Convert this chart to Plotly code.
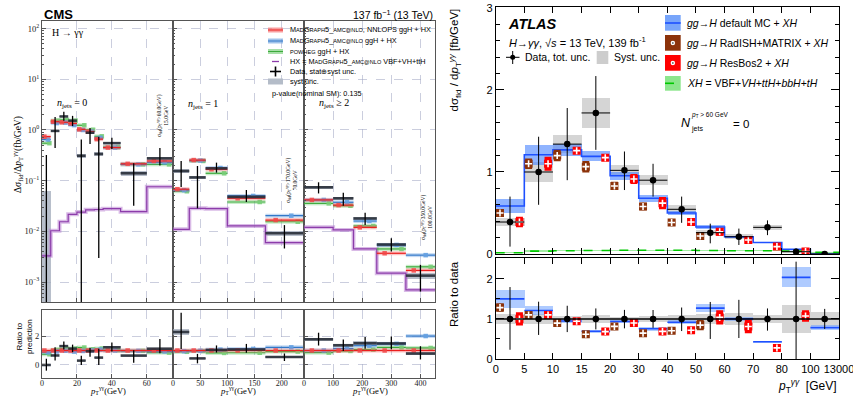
import plotly.graph_objects as go

W, H = 853, 398
def X(p): return p / W
def Y(p): return 1 - p / H

# ======================= CMS (left) data =======================
cms_edges = [
    [0, 5, 10, 15, 20, 25, 30, 35, 45, 60, 75],
    [0, 30, 60, 100, 170, 240],
    [0, 100, 170, 250, 350, 450],
]
cms_xrange = [[0, 75], [0, 241], [0, 450]]
cms_xticks = [[0, 20, 40, 60], [0, 50, 100, 150, 200], [0, 100, 200, 300, 400]]

cms_data = [
    [0.0, 0.96, 1.85, 1.53, 0.31, 0.885, 0.336, 0.55, 0.14, 0.276],
    [0.155, 0.116, 0.175, 0.048, 0.0092],
    [0.074, 0.045, 0.018, 0.0055, 0.00134],
]
cms_err_up = [
    [0.32, 0.84, 0.45, 0.37, 0.34, 0.215, 0.40, 0.15, 0.08, 0.164],
    [0.09, 0.079, 0.052, 0.0175, 0.0041],
    [0.019, 0.013, 0.0053, 0.0018, 0.00086],
]
cms_err_dn = [
    [0.29, 0.52, 0.33, 0.33, 0.31, 0.355, 0.333, 0.13, 0.108, 0.076],
    [0.08, 0.0875, 0.031, 0.010, 0.0046],
    [0.018, 0.013, 0.0046, 0.0015, 0.00069],
]
cms_syst = [
    [0.063, 0.06, 0.08, 0.07, 0.03, 0.05, 0.03, 0.03, 0.015, 0.02],
    [0.012, 0.01, 0.01, 0.004, 0.0012],
    [0.005, 0.003, 0.0015, 0.0005, 0.0002],
]
cms_nnlops = [
    [0.74, 1.46, 1.42, 1.35, 1.03, 0.93, 0.66, 0.45, 0.215, 0.245],
    [0.068, 0.255, 0.168, 0.045, 0.0167],
    [0.0417, 0.033, 0.012, 0.0037, 0.0017],
]
cms_mg5 = [
    [0.65, 1.37, 1.40, 1.25, 1.00, 0.93, 0.70, 0.45, 0.21, 0.23],
    [0.065, 0.25, 0.178, 0.050, 0.0204],
    [0.0417, 0.0375, 0.016, 0.0054, 0.0034],
]
cms_powheg = [
    [0.55, 1.53, 1.58, 1.53, 1.24, 1.01, 0.75, 0.46, 0.21, 0.21],
    [0.062, 0.245, 0.14, 0.038, 0.0155],
    [0.0357, 0.032, 0.0128, 0.0045, 0.0020],
]
cms_hx = [
    [0.0033, 0.0103, 0.0155, 0.0217, 0.024, 0.0266, 0.027, 0.028, 0.0245, 0.076],
    [0.011, 0.0285, 0.028, 0.0128, 0.006],
    [0.012, 0.0107, 0.0045, 0.0015, 0.0007],
]
cms_overflow_text = [
    "σ<sub>fid</sub>(p<sub>T</sub><sup>γγ</sup>>60.0GeV)<br>15.0GeV",
    "σ<sub>fid</sub>(p<sub>T</sub><sup>γγ</sup>>170.0GeV)<br>70.0GeV",
    "σ<sub>fid</sub>(p<sub>T</sub><sup>γγ</sup>>350.0GeV)<br>100.0GeV",
]
cms_njets_text = ["<i>n</i><sub>jets</sub> = 0", "<i>n</i><sub>jets</sub> = 1", "<i>n</i><sub>jets</sub> ≥ 2"]

# ======================= ATLAS (right) data =======================
atlas_labels = ["0", "5", "10", "15", "20", "30", "40", "50", "60", "70", "80", "100", "13000"]
atlas_data = [0.39, 1.00, 1.34, 1.72, 1.02, 0.90, 0.545, 0.26, 0.21, 0.325, 0.028, 0.0006]
atlas_err_up = [0.31, 0.43, 0.44, 0.45, 0.23, 0.20, 0.155, 0.11, 0.10, 0.085, 0.040, 0.00015]
atlas_err_dn = [0.30, 0.40, 0.44, 0.45, 0.24, 0.20, 0.165, 0.13, 0.10, 0.095, 0.040, 0.00015]
atlas_syst = [0.05, 0.12, 0.11, 0.18, 0.06, 0.06, 0.05, 0.03, 0.03, 0.03, 0.010, 0.0001]
atlas_default = [0.585, 1.21, 1.27, 1.19, 0.955, 0.68, 0.50, 0.33, 0.21, 0.14, 0.057, 0.00047]
atlas_default_unc = [0.09, 0.12, 0.07, 0.06, 0.05, 0.04, 0.03, 0.025, 0.012, 0.008, 0.007, 0.00004]
atlas_radish = [0.50, 1.10, 1.20, 1.065, 0.83, 0.58, 0.385, 0.22, None, None, None, None]
atlas_radish_unc = [0.04, 0.065, 0.07, 0.07, 0.05, 0.045, 0.035, 0.033, None, None, None, None]
atlas_resbos = [0.39, 1.10, 1.26, 1.175, 0.915, 0.62, 0.39, 0.27, 0.17, 0.09, 0.030, None]
atlas_resbos_unc = [0.065, 0.085, 0.02, 0.015, 0.06, 0.075, 0.045, 0.047, 0.035, 0.005, 0.004, None]
atlas_xh = [0.016, 0.035, 0.040, 0.042, 0.045, 0.045, 0.045, 0.042, 0.040, 0.040, 0.035, 0.020]
atlas_xh_unc = [0.005, 0.008, 0.008, 0.008, 0.008, 0.008, 0.008, 0.008, 0.008, 0.008, 0.007, 0.005]

# ======================= styles =======================
RED, RED_B, RED_M = "rgb(235,30,30)", "rgba(245,90,90,0.35)", "rgba(240,70,70,0.85)"
BLUE, BLUE_B, BLUE_M = "rgb(50,120,200)", "rgba(90,150,220,0.35)", "rgba(100,160,225,0.9)"
GREEN, GREEN_B, GREEN_M = "rgb(60,170,60)", "rgba(100,200,100,0.35)", "rgba(120,205,120,0.9)"
PURPLE, PURPLE_B = "rgb(140,60,170)", "rgba(185,130,210,0.55)"
GRID = "rgba(160,165,195,0.55)"
FRAME = "#555555"
SERIF = "Liberation Serif"
SANS = "Liberation Sans"
FLOOR = 1e-7

A_BLUE, A_BLUE_B, A_BLUE_RB = "rgb(30,80,255)", "rgba(70,130,255,0.6)", "rgba(110,160,255,0.55)"
A_BROWN, A_RED = "rgb(140,50,10)", "rgb(255,0,0)"
A_GREEN, A_GREEN_B = "rgb(0,200,0)", "rgba(90,220,90,0.55)"
A_GRAY = "rgba(185,185,185,0.6)"

fig = go.Figure()


def hsegs(edges, vals):
    xs, ys = [], []
    for i, v in enumerate(vals):
        if v is None:
            continue
        xs += [edges[i], edges[i + 1], None]
        ys += [v, v, None]
    return xs, ys


def seg_trace(xs, ys, color, width, xa, ya, dash=None):
    return go.Scatter(x=xs, y=ys, mode="lines", line=dict(color=color, width=width, dash=dash),
                      xaxis=xa, yaxis=ya, hoverinfo="skip", connectgaps=False)


# ======================= CMS traces =======================
for k in range(3):
    sfx = "" if k == 0 else str(k + 1)
    xa, ya = "x" + sfx, "y" + sfx
    xr, yr = "x%d" % (k + 4), "y%d" % (k + 4)
    e = cms_edges[k]
    n = len(e) - 1
    cen = [(e[i] + e[i + 1]) / 2 for i in range(n)]
    wid = [e[i + 1] - e[i] for i in range(n)]
    red = cms_nnlops[k]

    hx = cms_hx[k]
    fig.add_trace(go.Scatter(x=e, y=hx + [hx[-1]], mode="lines",
                             line=dict(shape="hv", color=PURPLE_B, width=4),
                             xaxis=xa, yaxis=ya, hoverinfo="skip"))
    fig.add_trace(go.Scatter(x=e, y=hx + [hx[-1]], mode="lines",
                             line=dict(shape="hv", color=PURPLE, width=1.2),
                             xaxis=xa, yaxis=ya, hoverinfo="skip"))

    preds = [(cms_powheg[k], GREEN, GREEN_B, GREEN_M, 0.85),
             (cms_mg5[k], BLUE, BLUE_B, BLUE_M, 0.68),
             (cms_nnlops[k], RED, RED_B, RED_M, 0.27)]
    for vals, c, cb, cm, f in preds:
        rat = [a / b for a, b in zip(vals, red)]
        for (ax_x, ax_y, v) in [(xa, ya, vals), (xr, yr, rat)]:
            sx_, sy_ = hsegs(e, v)
            fig.add_trace(seg_trace(sx_, sy_, cb, 4, ax_x, ax_y))
            fig.add_trace(seg_trace(sx_, sy_, c, 1.2, ax_x, ax_y))
            fig.add_trace(go.Scatter(x=[e[i] + f * wid[i] for i in range(n)], y=v, mode="markers",
                                     marker=dict(symbol="square", size=4.5, color=cm),
                                     xaxis=ax_x, yaxis=ax_y, hoverinfo="skip"))

    d, s, up, dn = cms_data[k], cms_syst[k], cms_err_up[k], cms_err_dn[k]
    base = [max(v - ss, FLOOR) for v, ss in zip(d, s)]
    hgt = [v + ss - b for v, ss, b in zip(d, s, base)]
    fig.add_trace(go.Bar(x=cen, y=hgt, base=base, width=wid, marker=dict(color="rgba(160,170,185,0.75)", line=dict(width=0)),
                         xaxis=xa, yaxis=ya, hoverinfo="skip"))
    rbase = [(v - ss) / r for v, ss, r in zip(d, s, red)]
    rh = [2 * ss / r for ss, r in zip(s, red)]
    fig.add_trace(go.Bar(x=cen, y=rh, base=rbase, width=wid, marker=dict(color="rgba(160,170,185,0.75)", line=dict(width=0)),
                         xaxis=xr, yaxis=yr, hoverinfo="skip"))

    vx, vy = [], []
    for i in range(n):
        vx += [cen[i], cen[i], None]
        vy += [max(d[i] - dn[i], FLOOR), d[i] + up[i], None]
    hxs, hys = hsegs(e, [v if v > 0 else None for v in d])
    fig.add_trace(seg_trace(hxs, hys, "rgba(40,46,55,0.9)", 2.6, xa, ya))
    fig.add_trace(seg_trace(vx, vy, "black", 1.3, xa, ya))
    rvx, rvy = [], []
    for i in range(n):
        rvx += [cen[i], cen[i], None]
        rvy += [(d[i] - dn[i]) / red[i], (d[i] + up[i]) / red[i], None]
    rh_x, rh_y = hsegs(e, [v / r for v, r in zip(d, red)])
    fig.add_trace(seg_trace(rh_x, rh_y, "rgba(40,46,55,0.9)", 2.6, xr, yr))
    fig.add_trace(seg_trace(rvx, rvy, "black", 1.3, xr, yr))

# ======================= ATLAS traces =======================
NA = len(atlas_data)
acen = [i + 0.5 for i in range(NA)]
aedges = list(range(NA + 1))

fig.add_trace(go.Bar(x=acen, y=[2 * s for s in atlas_syst], base=[v - s for v, s in zip(atlas_data, atlas_syst)],
                     width=1, marker=dict(color=A_GRAY, line=dict(width=0)), xaxis="x7", yaxis="y7", hoverinfo="skip"))
fig.add_trace(go.Bar(x=acen, y=[2 * u for u in atlas_default_unc],
                     base=[v - u for v, u in zip(atlas_default, atlas_default_unc)],
                     width=1, marker=dict(color=A_BLUE_B, line=dict(width=0)), xaxis="x7", yaxis="y7", hoverinfo="skip"))
fig.add_trace(go.Scatter(x=aedges, y=atlas_default + [atlas_default[-1]], mode="lines",
                         line=dict(shape="hv", color=A_BLUE, width=1.6), xaxis="x7", yaxis="y7", hoverinfo="skip"))
fig.add_trace(go.Bar(x=acen, y=[2 * u for u in atlas_xh_unc],
                     base=[max(v - u, 0) for v, u in zip(atlas_xh, atlas_xh_unc)],
                     width=1, marker=dict(color=A_GREEN_B, line=dict(width=0)), xaxis="x7", yaxis="y7", hoverinfo="skip"))
fig.add_trace(go.Scatter(x=aedges, y=atlas_xh + [atlas_xh[-1]], mode="lines",
                         line=dict(shape="hv", color=A_GREEN, width=1.6, dash="dash"), xaxis="x7", yaxis="y7", hoverinfo="skip"))


def pred_markers(vals, unc, color, frac, xa, ya, scale=None):
    xs, ys, es = [], [], []
    for i, (v, u) in enumerate(zip(vals, unc)):
        if v is None:
            continue
        sc = 1.0 if scale is None else scale[i]
        xs.append(i + frac)
        ys.append(v / sc)
        es.append(u / sc)
    fig.add_trace(go.Scatter(x=xs, y=ys, mode="markers",
                             marker=dict(symbol="square", size=8, color=color),
                             error_y=dict(type="data", array=es, color=color, thickness=7, width=0),
                             xaxis=xa, yaxis=ya, hoverinfo="skip"))
    fig.add_trace(go.Scatter(x=xs, y=ys, mode="markers",
                             marker=dict(symbol="cross-thin", size=5, color="white",
                                         line=dict(width=1.6, color="white")),
                             xaxis=xa, yaxis=ya, hoverinfo="skip"))


pred_markers(atlas_radish, atlas_radish_unc, A_BROWN, 0.15, "x7", "y7")
pred_markers(atlas_resbos, atlas_resbos_unc, A_RED, 0.83, "x7", "y7")

fig.add_trace(go.Scatter(x=acen, y=atlas_data, mode="markers",
                         marker=dict(symbol="circle", size=6.5, color="black"),
                         error_y=dict(type="data", symmetric=False, array=atlas_err_up, arrayminus=atlas_err_dn,
                                      color="black", thickness=1, width=0),
                         error_x=dict(type="constant", value=0.5, color="black", thickness=1, width=0),
                         xaxis="x7", yaxis="y7", hoverinfo="skip"))

fig.add_trace(go.Bar(x=acen, y=[2 * s / v for v, s in zip(atlas_data, atlas_syst)],
                     base=[1 - s / v for v, s in zip(atlas_data, atlas_syst)],
                     width=1, marker=dict(color=A_GRAY, line=dict(width=0)), xaxis="x8", yaxis="y8", hoverinfo="skip"))
fig.add_trace(go.Bar(x=acen, y=[2 * u / v for v, u in zip(atlas_data, atlas_default_unc)],
                     base=[(m - u) / v for v, m, u in zip(atlas_data, atlas_default, atlas_default_unc)],
                     width=1, marker=dict(color=A_BLUE_RB, line=dict(width=0)), xaxis="x8", yaxis="y8", hoverinfo="skip"))
bxs, bys = hsegs(aedges, [m / v for m, v in zip(atlas_default, atlas_data)])
fig.add_trace(seg_trace(bxs, bys, A_BLUE, 1.6, "x8", "y8"))
pred_markers(atlas_radish, atlas_radish_unc, A_BROWN, 0.15, "x8", "y8", scale=atlas_data)
pred_markers(atlas_resbos, atlas_resbos_unc, A_RED, 0.83, "x8", "y8", scale=atlas_data)
fig.add_trace(go.Scatter(x=acen, y=[v / v for v in atlas_data], mode="markers",
                         marker=dict(symbol="circle", size=6.5, color="black"),
                         error_y=dict(type="data", symmetric=False,
                                      array=[u / v for u, v in zip(atlas_err_up, atlas_data)],
                                      arrayminus=[u / v for u, v in zip(atlas_err_dn, atlas_data)],
                                      color="black", thickness=1, width=0),
                         xaxis="x8", yaxis="y8", hoverinfo="skip"))

# ======================= layout =======================
layout = dict(width=W, height=H, margin=dict(l=0, r=0, t=0, b=0, autoexpand=False), paper_bgcolor="white",
              plot_bgcolor="white", showlegend=False, barmode="overlay", bargap=0)

cms_px = [42, 173, 304, 435]
cms_main_dom = [Y(302), Y(21)]
cms_rat_dom = [Y(378), Y(310)]
dec_vals = [1e-3, 1e-2, 1e-1, 1, 10, 100]
dec_text = ["10<sup>−3</sup>", "10<sup>−2</sup>", "10<sup>−1</sup>", "10<sup>0</sup>", "10<sup>1</sup>", "10<sup>2</sup>"]
minor_log = [m * 10.0 ** p for p in range(-4, 3) for m in range(2, 10)]

for k in range(3):
    sfx = "" if k == 0 else str(k + 1)
    dom = [X(cms_px[k]), X(cms_px[k + 1])]
    common_x = dict(domain=dom, range=cms_xrange[k], showline=True, mirror=True, linecolor=FRAME, linewidth=1,
                    ticks="inside", ticklen=4, tickcolor=FRAME, tickvals=cms_xticks[k], showgrid=True,
                    gridcolor=GRID, griddash="dash", gridwidth=0.8, zeroline=False, automargin=False,
                    tickfont=dict(family=SERIF, size=8, color="#222"))
    layout["xaxis" + sfx] = dict(common_x, anchor="y" + sfx, showticklabels=False)
    layout["xaxis%d" % (k + 4)] = dict(common_x, anchor="y%d" % (k + 4), showticklabels=True,
                                       ticklabelstandoff=-3)
    layout["yaxis" + sfx] = dict(domain=cms_main_dom, type="log", range=[-3.393, 2.15], anchor="x" + sfx,
                                 showline=True, mirror=True, linecolor=FRAME, linewidth=1, ticks="inside", ticklen=4,
                                 tickcolor=FRAME, tickvals=dec_vals, ticktext=dec_text, showticklabels=(k == 0),
                                 showgrid=True, gridcolor=GRID, griddash="dash", gridwidth=0.8, zeroline=False,
                                 automargin=False,
                                 minor=dict(tickvals=minor_log, ticks="inside", ticklen=2, tickcolor=FRAME, showgrid=False),
                                 tickfont=dict(family=SERIF, size=8.5, color="#222"))
    layout["yaxis%d" % (k + 4)] = dict(domain=cms_rat_dom, range=[-0.9, 3.8], anchor="x%d" % (k + 4),
                                       showline=True, mirror=True, linecolor=FRAME, linewidth=1, ticks="inside",
                                       ticklen=4, tickcolor=FRAME, tickvals=[0, 2], showticklabels=(k == 0),
                                       showgrid=True, gridcolor=GRID, griddash="dash", gridwidth=0.8, zeroline=False,
                                       automargin=False, tickfont=dict(family=SERIF, size=8.5, color="#222"))

atl_dom = [X(495.7), X(839)]
atl_font = dict(family=SANS, size=11, color="black")
layout["xaxis7"] = dict(domain=atl_dom, range=[0, 12], anchor="y7", showline=True, mirror="ticks", linecolor="black",
                        linewidth=1, ticks="inside", ticklen=6, tickcolor="black", tickvals=aedges,
                        showticklabels=False, showgrid=False, zeroline=False, automargin=False)
layout["xaxis8"] = dict(domain=atl_dom, range=[0, 12], anchor="y8", showline=True, mirror="ticks", linecolor="black",
                        linewidth=1, ticks="inside", ticklen=6, tickcolor="black", tickvals=aedges,
                        ticktext=atlas_labels, showticklabels=True, showgrid=False, zeroline=False, tickfont=atl_font,
                        automargin=False, ticklabeloverflow="allow")
layout["yaxis7"] = dict(domain=[Y(254), Y(7)], range=[0, 3.012], anchor="x7", showline=True, mirror="ticks",
                        linecolor="black", linewidth=1, ticks="inside", ticklen=8, tickcolor="black",
                        tickvals=[0, 1, 2, 3], showgrid=False, zeroline=False, tickfont=atl_font, automargin=False,
                        ticklabeloverflow="allow",
                        minor=dict(dtick=0.2, ticks="inside", ticklen=4, tickcolor="black", showgrid=False))
layout["yaxis8"] = dict(domain=[Y(359), Y(258)], range=[0, 2.52], anchor="x8", showline=True, mirror="ticks",
                        linecolor="black", linewidth=1, ticks="inside", ticklen=8, tickcolor="black",
                        tickvals=[0, 1, 2], showgrid=False, zeroline=False, tickfont=atl_font, automargin=False,
                        ticklabeloverflow="allow",
                        minor=dict(dtick=0.5, ticks="inside", ticklen=4, tickcolor="black", showgrid=False))

shapes = []
annots = []


def txt(x, y, text, size, family=SANS, color="black", xanchor="left", yanchor="middle", angle=0, align="left"):
    annots.append(dict(x=X(x), y=Y(y), xref="paper", yref="paper", text=text, showarrow=False,
                       font=dict(family=family, size=size, color=color), xanchor=xanchor, yanchor=yanchor,
                       textangle=angle, align=align))


def rect(x0, y0, x1, y1, fill, line=None):
    shapes.append(dict(type="rect", xref="paper", yref="paper", x0=X(x0), x1=X(x1), y0=Y(y1), y1=Y(y0),
                       fillcolor=fill, line=dict(width=0) if line is None else line, layer="above"))


def line(x0, y0, x1, y1, color, width=1, dash=None):
    shapes.append(dict(type="line", xref="paper", yref="paper", x0=X(x0), x1=X(x1), y0=Y(y0), y1=Y(y1),
                       line=dict(color=color, width=width, dash=dash), layer="above"))


# ----- CMS texts -----
txt(42, 14, "<b>CMS</b>", 13)
txt(435, 15, "137 fb<sup>−1</sup> (13 TeV)", 10.5, xanchor="right")
txt(50, 33, "H → γγ", 10, family=SERIF)
txt(72, 103, cms_njets_text[0], 10, family=SERIF, xanchor="center")
txt(203, 104, cms_njets_text[1], 10, family=SERIF, xanchor="center")
txt(334, 103, cms_njets_text[2], 10, family=SERIF, xanchor="center")
txt(163, 116, cms_overflow_text[0], 5.5, family=SERIF, xanchor="center", angle=-90, align="center")
txt(291, 181, cms_overflow_text[1], 5.5, family=SERIF, xanchor="center", angle=-90, align="center")
txt(426, 218, cms_overflow_text[2], 5.5, family=SERIF, xanchor="center", angle=-90, align="center")
txt(17, 155, "Δσ<sub>fid</sub>/Δ<i>p</i><sub>T</sub><sup>γγ</sup>(fb/GeV)", 9.5, family=SERIF, xanchor="center", angle=-90)
txt(24, 337, "Ratio to<br>prediction", 8, xanchor="center", angle=-90, align="center")
for cx in [107.5, 238.5, 369.5]:
    txt(cx, 398, "<i>p</i><sub>T</sub><sup>γγ</sup>(GeV)", 8.5, family=SERIF, xanchor="center", yanchor="bottom")

SC = "<span style='font-size:5.6px'>"
MG = "M" + SC + "AD</span>G" + SC + "RAPH</span>5_" + SC + "AMC@NLO</span>"
leg_y = [30, 41, 51.5, 61.5, 71.5, 81.5]
for yy, c, b in [(leg_y[0], RED, "rgba(245,120,120,0.7)"), (leg_y[1], BLUE, "rgba(120,170,225,0.7)"),
                 (leg_y[2], GREEN, "rgba(130,210,130,0.7)")]:
    rect(268, yy - 2.5, 283, yy + 2.5, b)
    line(268, yy, 283, yy, c, 1)
line(272, leg_y[3], 279, leg_y[3], PURPLE, 1.3)
line(270, leg_y[4], 281, leg_y[4], "black", 1.6)
line(275.5, leg_y[4] - 5, 275.5, leg_y[4] + 5, "black", 1.6)
rect(268, leg_y[5] - 3, 283, leg_y[5] + 3, "rgb(180,188,200)")
leg_txt = [MG + ", NNLOPS ggH + HX", MG + " ggH + HX", SC + "POWHEG</span> ggH + HX",
           "HX = " + MG + " VBF+VH+ttH", "Data, stat⊕syst unc.", "syst unc."]
for yy, t in zip(leg_y, leg_txt):
    txt(288, yy, t, 7.3)
txt(270, 93, "p-value(nominal SM): 0.135", 7.3)

# ----- ATLAS texts -----
txt(506, 24, "<b><i>ATLAS</i></b>", 14.5)
txt(507, 42, "<i>H</i>→<i>γγ</i>, √<i>s</i> = 13 TeV, 139 fb<sup>-1</sup>", 11)
line(506, 57.3, 519.5, 57.3, "black", 1)
line(512.7, 51, 512.7, 64, "black", 1)
shapes.append(dict(type="circle", xref="paper", yref="paper", x0=X(510.2), x1=X(515.2), y0=Y(59.8), y1=Y(54.8),
                   fillcolor="black", line=dict(width=0), layer="above"))
txt(523, 57.3, "Data, tot. unc.", 10.5)
rect(596.7, 51, 608.3, 64, "rgb(205,205,205)")
txt(612, 57.3, "Syst. unc.", 10.5)

rect(665, 15, 680.7, 30.7, "rgb(120,165,250)")
line(665, 23, 680.7, 23, A_BLUE, 1.6)
rect(665, 35, 680.7, 50.7, A_BROWN)
rect(665, 55, 680.7, 70.7, A_RED)
for yy in [43, 63]:
    shapes.append(dict(type="circle", xref="paper", yref="paper", x0=X(670.6), x1=X(675.1), y0=Y(yy + 2.2),
                       y1=Y(yy - 2.2), fillcolor="white", line=dict(width=0), layer="above"))
    shapes.append(dict(type="circle", xref="paper", yref="paper", x0=X(672.1), x1=X(673.6), y0=Y(yy + 0.8),
                       y1=Y(yy - 0.8), fillcolor="black", line=dict(width=0), layer="above"))
rect(665, 76, 680.7, 90.7, "rgb(140,230,140)")
line(665, 83.3, 680.7, 83.3, A_GREEN, 1.6, "dash")
txt(685, 23, "<i>gg</i>→<i>H</i> default MC + <i>XH</i>", 10.5)
txt(685, 43, "<i>gg</i>→<i>H</i> RadISH+MATRIX + <i>XH</i>", 10.5)
txt(685, 63, "<i>gg</i>→<i>H</i> ResBos2 + <i>XH</i>", 10.5)
txt(685, 83.3, "<i>XH</i> = VBF+<i>VH</i>+<i>ttH</i>+<i>bbH</i>+<i>tH</i>", 10.5)
txt(679, 123, "<i>N</i>", 12.5)
txt(688.5, 128.5, "jets", 7)
txt(688.5, 114.5, "<i>p</i><sub>T</sub> > 60 GeV", 6.5)
txt(731, 124, "= 0", 11.5)

txt(454, 7, "dσ<sub>fid</sub> / d<i>p</i><sub>T</sub><sup><i>γγ</i></sup> [fb/GeV]", 11.5, xanchor="center",
    yanchor="top", angle=-90)
txt(454, 259, "Ratio to data", 11.5, xanchor="center", yanchor="top", angle=-90)
txt(839, 386, "<i>p</i><sub>T</sub><sup><i>γγ</i></sup>  [GeV]", 12, xanchor="right")

shapes.append(dict(type="line", xref="x8 domain", yref="y8", x0=0, x1=1, y0=1, y1=1,
                   line=dict(color="black", width=1.5), layer="above"))

layout["shapes"] = shapes
layout["annotations"] = annots
fig.update_layout(**layout)
fig.write_html("out.html", config={"displayModeBar": False},
               post_script="document.body.style.margin='0';document.body.style.padding='0';"
                           "document.documentElement.style.overflow='hidden';")
